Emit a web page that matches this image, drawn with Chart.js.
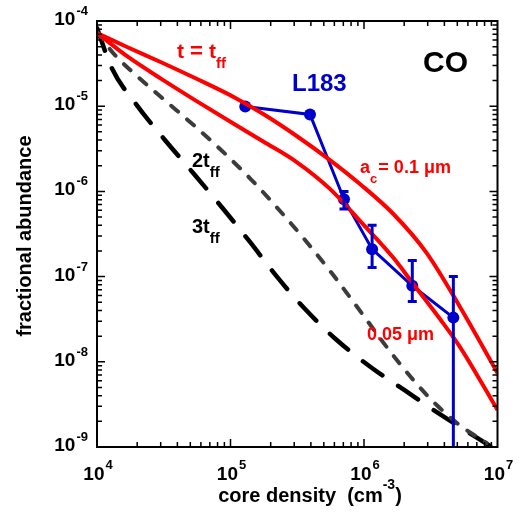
<!DOCTYPE html>
<html>
<head>
<meta charset="utf-8">
<script src="https://cdn.jsdelivr.net/npm/chart.js@4.4.0/dist/chart.umd.min.js"></script>
<style>
  body { margin: 0; background: #fff; }
  canvas { display: block; }
</style>
</head>
<body>
<canvas id="coChart" width="526" height="519"></canvas>
<script>
// core density (cm^-3) and CO fractional abundance

// model t = t_ff, a_c = 0.1 um
const densBig = [1e4, 1.71e4, 3.05e4, 5.42e4, 1.08e5, 1.76e5, 3.13e5, 5.56e5, 9.33e5, 1.66e6, 2.95e6, 5.24e6, 1e7];
const abunBig = [7.23e-5, 4.89e-5, 3.26e-5, 2.14e-5, 1.26e-5, 8.09e-6, 4.47e-6, 2.33e-6, 1.22e-6, 5.43e-7, 1.89e-7, 4.4e-8, 7.4e-9];

// model t = t_ff, a_c = 0.05 um
const densSmall = [1e4, 1.71e4, 3.05e4, 5.42e4, 1.08e5, 1.76e5, 3.13e5, 5.56e5, 9.33e5, 1.66e6, 2.34e6, 3.71e6, 5.24e6, 1e7];
const abunSmall = [7.23e-5, 3.78e-5, 2.08e-5, 1.18e-5, 6.1e-6, 3.85e-6, 2.21e-6, 1.07e-6, 4.5e-7, 1.66e-7, 8.19e-8, 3.18e-8, 1.49e-8, 2.72e-9];

// model t = 2 t_ff
const dens2tff = [1e4, 1.34e4, 2.03e4, 3.27e4, 5.18e4, 8.5e4, 1.44e5, 2.35e5, 3.72e5, 5.73e5, 9.6e5, 1.48e6, 2.34e6, 3.5e6, 5.24e6, 8.3e6];
const abun2tff = [7.43e-5, 4.1e-5, 2.2e-5, 1.15e-5, 6.18e-6, 3.06e-6, 1.36e-6, 5.89e-7, 2.55e-7, 1.1e-7, 3.74e-8, 1.49e-8, 6.12e-9, 3.11e-9, 1.79e-9, 1.11e-9];

// model t = 3 t_ff
const dens3tff = [1e4, 1.29e4, 1.96e4, 3.18e4, 5.33e4, 8.71e4, 1.38e5, 2.18e5, 3.56e5, 6.25e5, 1.12e6, 2.0e6, 3.58e6, 6.67e6, 8.8e6];
const abun3tff = [8.28e-5, 2.8e-5, 1.06e-5, 4.12e-6, 1.6e-6, 6.38e-7, 2.62e-7, 1.04e-7, 4.27e-8, 1.8e-8, 8.69e-9, 4.67e-9, 2.51e-9, 1.35e-9, 1.03e-9];

// L183 observations with error bars
const densL183 = [1.29e5, 3.94e5, 7.08e5, 1.15e6, 2.3e6, 4.67e6];
const abunL183 = [9.9e-6, 8.0e-6, 8.1e-7, 2.1e-7, 7.8e-8, 3.3e-8];
const errLowL183 = [null, null, 6.2e-7, 1.28e-7, 5.1e-8, 1e-10];
const errHighL183 = [null, null, 1.0e-6, 4.0e-7, 1.55e-7, 1.0e-7];

const xDecades = [4, 5, 6, 7];
const yDecades = [-9, -8, -7, -6, -5, -4];

const FONT = "'Liberation Sans', Arial, sans-serif";
const RED = '#ff0000';
const BLUE = '#0000cc';

const toPoints = (xs, ys) => xs.map((x, i) => ({ x: x, y: ys[i] }));

const curve = (label, xs, ys, color, width, dash, order) => ({
  label: label,
  data: toPoints(xs, ys),
  showLine: true,
  borderColor: color,
  borderWidth: width,
  borderDash: dash,
  borderCapStyle: dash.length ? 'round' : 'butt',
  pointRadius: 0,
  cubicInterpolationMode: 'monotone',
  order: order
});

// draw a run of text pieces one after another: [text, size, dy]
const drawRun = (ctx, parts, x, y) => {
  let cx = x;
  parts.forEach(([t, size, dy]) => {
    ctx.font = 'bold ' + size + 'px ' + FONT;
    ctx.fillText(t, cx, y + (dy || 0));
    cx += ctx.measureText(t).width;
  });
  return cx;
};

const drawFrame = (chart) => {
  const { ctx, chartArea: a, scales: { x, y } } = chart;
  ctx.save();
  ctx.setLineDash([]);
  ctx.globalAlpha = 1;
  ctx.globalCompositeOperation = 'source-over';
  ctx.strokeStyle = '#000000';
  ctx.lineCap = 'butt';
  ctx.lineWidth = 2;
  ctx.beginPath();
  ctx.rect(a.left, a.top, a.right - a.left, a.bottom - a.top);
  ctx.stroke();

  // inward ticks on all four sides
  ctx.lineWidth = 1.5;
  ctx.beginPath();
  for (let e = 4; e < 7; e++) {
    for (let m = 1; m <= 9; m++) {
      const px = x.getPixelForValue(m * Math.pow(10, e));
      const len = m === 1 ? 8 : 5;
      ctx.moveTo(px, a.bottom); ctx.lineTo(px, a.bottom - len);
      ctx.moveTo(px, a.top); ctx.lineTo(px, a.top + len);
    }
  }
  for (let e = -9; e < -4; e++) {
    for (let m = 1; m <= 9; m++) {
      const py = y.getPixelForValue(m * Math.pow(10, e));
      const len = m === 1 ? 8 : 5;
      ctx.moveTo(a.left, py); ctx.lineTo(a.left + len, py);
      ctx.moveTo(a.right, py); ctx.lineTo(a.right - len, py);
    }
  }
  ctx.stroke();
  ctx.restore();
};

const decorations = {
  id: 'decorations',
  afterDatasetsDraw(chart) {
    const { ctx, chartArea: a, scales: { x, y } } = chart;
    ctx.save();
    ctx.beginPath();
    ctx.rect(a.left, a.top, a.right - a.left, a.bottom - a.top);
    ctx.clip();
    ctx.setLineDash([]);
    ctx.strokeStyle = BLUE;
    ctx.lineWidth = 3;
    densL183.forEach((d, i) => {
      if (errLowL183[i] == null) return;
      const px = x.getPixelForValue(d);
      const lo = y.getPixelForValue(errLowL183[i]);
      const hi = y.getPixelForValue(errHighL183[i]);
      ctx.beginPath();
      ctx.moveTo(px, lo); ctx.lineTo(px, hi);
      ctx.moveTo(px - 4.5, hi); ctx.lineTo(px + 4.5, hi);
      ctx.moveTo(px - 4.5, lo); ctx.lineTo(px + 4.5, lo);
      ctx.stroke();
    });
    ctx.restore();
    drawFrame(chart);
  },
  afterDraw(chart) {
    const { ctx, chartArea: a, scales: { x, y } } = chart;
    ctx.save();
    ctx.fillStyle = '#000';

    // tick labels
    ctx.textBaseline = 'alphabetic';
    ctx.textAlign = 'left';
    yDecades.forEach(e => {
      const py = y.getPixelForValue(Math.pow(10, e));
      ctx.font = 'bold 13px ' + FONT;
      const sw = ctx.measureText(String(e)).width;
      ctx.font = 'bold 19px ' + FONT;
      const bw = ctx.measureText('10').width;
      const sx = a.left - 9 - sw;
      ctx.fillText('10', sx - bw - 1, py + 4);
      ctx.font = 'bold 13px ' + FONT;
      ctx.fillText(String(e), sx, py - 6);
    });
    xDecades.forEach(e => {
      const px = x.getPixelForValue(Math.pow(10, e));
      ctx.font = 'bold 13px ' + FONT;
      const sw = ctx.measureText(String(e)).width;
      ctx.font = 'bold 19px ' + FONT;
      const bw = ctx.measureText('10').width;
      const sx0 = px - (bw + 1 + sw) / 2 + 1;
      ctx.fillText('10', sx0, a.bottom + 33);
      ctx.font = 'bold 13px ' + FONT;
      ctx.fillText(String(e), sx0 + bw + 1, a.bottom + 22);
    });

    // axis titles
    ctx.font = 'bold 20px ' + FONT;
    const t1 = 'core density  (cm';
    const w1 = ctx.measureText(t1).width;
    ctx.font = 'bold 14px ' + FONT;
    const w2 = ctx.measureText('-3').width;
    ctx.font = 'bold 20px ' + FONT;
    const w3 = ctx.measureText(')').width;
    const tx = 310 - (w1 + w2 + w3) / 2;
    drawRun(ctx, [[t1, 20], ['-3', 14, -13], [')', 20]], tx, a.bottom + 55);

    ctx.save();
    ctx.translate(31, 236);
    ctx.rotate(-Math.PI / 2);
    ctx.textAlign = 'center';
    ctx.font = 'bold 20px ' + FONT;
    ctx.fillText('fractional abundance', 0, 0);
    ctx.restore();

    // annotations
    ctx.textAlign = 'left';
    ctx.fillStyle = RED;
    drawRun(ctx, [['t', 21], [' = ', 22], ['t', 21], ['ff', 15, 10]], 177, 58);
    drawRun(ctx, [['a', 18], ['c', 13, 10], [' ', 4], ['= 0.1 \u03bcm', 18]], 360, 173);
    drawRun(ctx, [['0.05 \u03bcm', 18]], 367, 340);
    ctx.fillStyle = BLUE;
    drawRun(ctx, [['L183', 24]], 292, 91);
    ctx.fillStyle = '#000';
    drawRun(ctx, [['CO', 30]], 423, 72);
    drawRun(ctx, [['2t', 20], ['ff', 15, 10]], 192, 167);
    drawRun(ctx, [['3t', 20], ['ff', 15, 10]], 192, 233);

    ctx.restore();
  }
};

new Chart(document.getElementById('coChart'), {
  type: 'scatter',
  data: {
    datasets: [
      {
        label: 'L183',
        data: toPoints(densL183, abunL183),
        showLine: true,
        borderColor: BLUE,
        backgroundColor: BLUE,
        borderWidth: 3,
        pointRadius: 6,
        pointBorderWidth: 0,
        order: 2
      },
      curve('a_c = 0.1 um', densBig, abunBig, RED, 4, [], 1),
      curve('a_c = 0.05 um', densSmall, abunSmall, RED, 4, [], 1),
      curve('2 t_ff', dens2tff, abun2tff, '#3c3c3c', 4, [9, 12], 3),
      curve('3 t_ff', dens3tff, abun3tff, '#000000', 4.5, [24, 19], 3)
    ]
  },
  options: {
    responsive: false,
    animation: false,
    devicePixelRatio: 1,
    layout: { padding: { left: 97, top: 21, right: 28.5, bottom: 72 } },
    plugins: {
      legend: { display: false },
      tooltip: { enabled: false }
    },
    scales: {
      x: { type: 'logarithmic', min: 1e4, max: 1e7, display: false },
      y: { type: 'logarithmic', min: 1e-9, max: 1e-4, display: false }
    }
  },
  plugins: [decorations]
});
</script>
</body>
</html>
